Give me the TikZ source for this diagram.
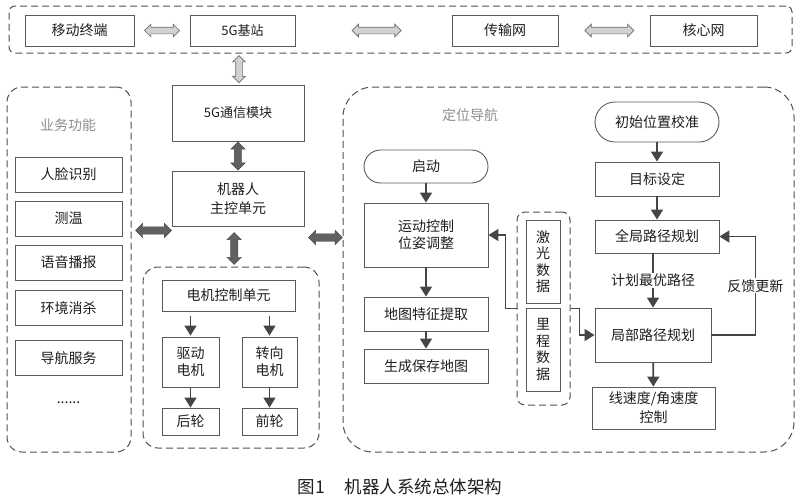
\documentclass[tikz,border=0pt]{standalone}
\usepackage{fontspec}
\setmainfont{Noto Sans CJK SC}
\usetikzlibrary{arrows.meta,shapes.arrows,calc}
\definecolor{boxgray}{HTML}{5A5A5A}
\definecolor{framegray}{HTML}{505050}
\definecolor{arrowgray}{HTML}{454545}
\definecolor{titlegray}{HTML}{8E8E8E}
\definecolor{txtblack}{HTML}{1E1E1E}

\begin{document}
\begin{tikzpicture}[x=1pt,y=1pt,yscale=-1,
  box/.style={draw=boxgray, line width=0.9pt, inner sep=1pt, align=center, text=txtblack, font=\fontsize{14}{17}\selectfont},
  frame/.style={draw=framegray, line width=1pt, dash pattern=on 7pt off 4pt, inner sep=0pt},
  title/.style={text=titlegray, font=\fontsize{14}{17}\selectfont},
  arr/.style={draw=arrowgray, line width=1.7pt, -{Triangle[width=12pt,length=10pt]}},
  hollowarr/.style={double arrow, draw=gray!85!black, fill=gray!35, line width=0.7pt, inner sep=3pt, double arrow head extend=3pt, minimum width=12pt},
  darkarr/.style={double arrow, draw=arrowgray, fill=arrowgray!85, line width=0.4pt, inner sep=3.5pt, double arrow head extend=3.5pt, minimum width=14pt}]
\useasboundingbox (0,0) rectangle (800,499);

%Frames
\node [frame, rounded corners=6, minimum width=783, minimum height=47] (topfr) at (400.5,29.5) {};
\node [frame, rounded corners=15, minimum width=124, minimum height=365] (ywfr) at (69,269.5) {};
\node [frame, rounded corners=15, minimum width=176, minimum height=181] (djfr) at (231,357.5) {};
\node [frame, rounded corners=30, minimum width=451, minimum height=365] (dwfr) at (568.5,269.5) {};
\node [frame, rounded corners=8, minimum width=53, minimum height=193] (cgq) at (543.5,308.5) {};

% Text Node - network row
\node [box, minimum width=109, minimum height=31] (ydzd) at (79.5,30.5) {移动终端};
\node [box, minimum width=105, minimum height=31, font=\fontsize{13}{16}\selectfont] (jz) at (242.5,30.5) {5G基站};
\node [box, minimum width=106, minimum height=31] (csw) at (505,30.5) {传输网};
\node [box, minimum width=107, minimum height=31] (hxw) at (703.5,30.5) {核心网};

% Text Node - main control
\node [box, minimum width=132, minimum height=56, font=\fontsize{13}{16}\selectfont] (txmk) at (238,113) {5G通信模块};
\node [box, minimum width=132, minimum height=55, font=\fontsize{14}{19}\selectfont] (zk) at (238,198.5) {机器人\\主控单元};

% Text Node - business
\node [title] (ywgn) at (68,125) {业务功能};
\node [box, minimum width=107, minimum height=35] (rlsb) at (68.5,174.5) {人脸识别};
\node [box, minimum width=107, minimum height=35] (cw) at (68.5,218.5) {测温};
\node [box, minimum width=107, minimum height=35] (yybb) at (68.5,262.5) {语音播报};
\node [box, minimum width=107, minimum height=35] (hjxs) at (68.5,308) {环境消杀};
\node [box, minimum width=107, minimum height=35] (dhfw) at (68.5,358) {导航服务};
\node [text=txtblack, font=\fontsize{14}{17}\selectfont] (gd) at (68.5,403) {......};

% Text Node - motor
\node [box, minimum width=133, minimum height=31] (djkz) at (228.5,295.5) {电机控制单元};
\node [box, minimum width=57, minimum height=50] (qddj) at (190.5,362) {驱动\\电机};
\node [box, minimum width=55, minimum height=50] (zxdj) at (269.5,362) {转向\\电机};
\node [box, minimum width=57, minimum height=27] (hl) at (190.5,421.5) {后轮};
\node [box, minimum width=55, minimum height=27] (ql) at (269.5,421.5) {前轮};

% Text Node - positioning and mapping
\node [title] (dwdh) at (470,115) {定位导航};
\node [box, rounded corners=16.5, minimum width=124, minimum height=33] (qd) at (426,166.5) {启动};
\node [box, minimum width=124, minimum height=64] (ydkz) at (426,235) {运动控制\\位姿调整};
\node [box, minimum width=124, minimum height=34] (dtsb) at (426,314) {地图特征提取};
\node [box, minimum width=124, minimum height=34] (scdt) at (426,366) {生成保存地图};
\node [box, minimum width=34, minimum height=83, font=\fontsize{14}{16.5}\selectfont] (jgsj) at (543,261.5) {激\\光\\数\\据};
\node [box, minimum width=34, minimum height=83, font=\fontsize{14}{16.5}\selectfont] (lcsj) at (543,349.5) {里\\程\\数\\据};

% Text Node - path planning
\node [box, rounded corners=20, minimum width=124, minimum height=40] (cswz) at (657,122) {初始位置校准};
\node [box, minimum width=124, minimum height=34] (mbsd) at (657,179) {目标设定};
\node [box, minimum width=124, minimum height=33] (qjlj) at (657,236.5) {全局路径规划};
\node [box, minimum width=116, minimum height=54] (jblj) at (653,335) {局部路径规划};
\node [box, minimum width=123, minimum height=42, font=\fontsize{14}{19}\selectfont] (xsd) at (653.5,408) {线速度/角速度\\控制};

%Block arrows
\node [hollowarr, minimum height=35] (a1) at ($(ydzd.east)!0.5!(jz.west)$) {};
\node [hollowarr, minimum height=49] (a2) at ($(jz.east)!0.52!(csw.west)$) {};
\node [hollowarr, minimum height=49] (a3) at ($(csw.east)!0.56!(hxw.west)$) {};
\node [hollowarr, rotate=90, minimum height=27] (a4) at ($(txmk.north |- topfr.south)!0.5!(txmk.north) + (1,0)$) {};
\node [darkarr, rotate=90, minimum height=28] (d1) at ($(txmk.south)!0.5!(zk.north)$) {};
\node [darkarr, rotate=90, minimum height=32] (d2) at ($(zk.south)!0.55!(djfr.north)$) {};
\node [darkarr, minimum height=36] (d3) at ($(ywfr.east)!0.55!(zk.west)$) {};
\node [darkarr, minimum height=34] (d4) at ($(zk.east)!0.55!(dwfr.west)$) {};

%Straight Lines
\draw [arr, shorten <=5pt, shorten >=1pt] (djkz.south -| qddj.north) -- (qddj.north);
\draw [arr, shorten <=5pt, shorten >=1pt] (djkz.south -| zxdj.north) -- (zxdj.north);
\draw [arr] (qddj) -- (hl);
\draw [arr] (zxdj) -- (ql);
\draw [arr] (qd) -- (ydkz);
\draw [arr] (ydkz) -- (dtsb);
\draw [arr] (dtsb) -- (scdt);
\draw [arr] (cgq.west) -- ++(-11,0) |- (ydkz.east);
\draw [arr] (cgq.east) -- ++(9,0) |- (jblj.west);
\draw [arr] (cswz) -- (mbsd);
\draw [arr] (mbsd) -- (qjlj);
\draw [arr] (qjlj.south -| jblj.north) -- (jblj.north) node [midway, fill=white, inner sep=1pt, text=txtblack, font=\fontsize{14}{17}\selectfont] {计划最优路径};
\draw [arr] (jblj) -- (xsd);
\draw [arr] (jblj.east) -- ++(44,0) |- (qjlj.east) node [pos=0.25, fill=white, inner sep=1pt, text=txtblack, font=\fontsize{14}{17}\selectfont] {反馈更新};

% Caption
\node [text=txtblack, font=\fontsize{17.5}{20}\selectfont] (cap) at (400,487) {图1\hspace{20pt}机器人系统总体架构};

\end{tikzpicture}
\end{document}
